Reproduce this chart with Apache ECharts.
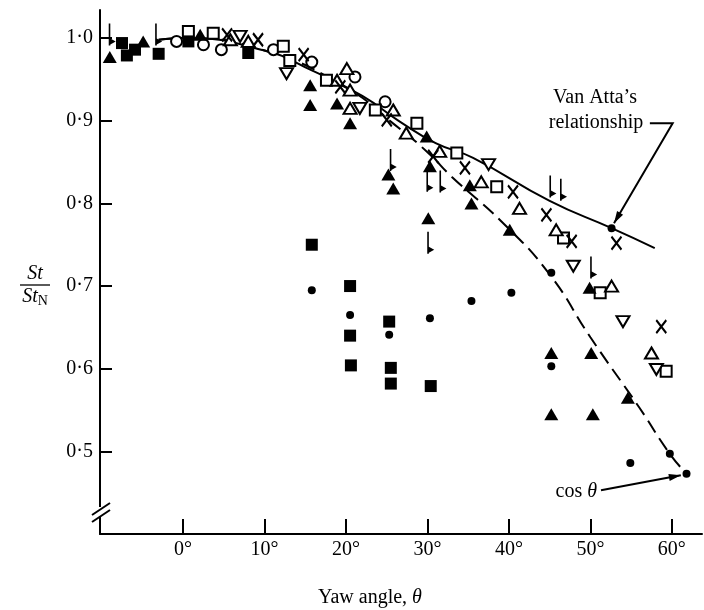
<!DOCTYPE html>
<html><head><meta charset="utf-8">
<script src="https://cdn.jsdelivr.net/npm/echarts@6/dist/echarts.min.js"></script>
<style>html,body{margin:0;padding:0;background:#fff}#c{width:704px;height:610px}</style>
</head><body><div id="c"></div>
<script>
// ---- tick labels ----
const xTicks = [0, 10, 20, 30, 40, 50, 60];
const yTicks = [0.5, 0.6, 0.7, 0.8, 0.9, 1.0];

// ---- curves ----
const cosCurve = [[-3,0.998],[0,1.0],[10,0.985],[20,0.94],[26,0.895],[30,0.862],[33,0.832],[39.3,0.776],[45,0.714],[50,0.638],[56,0.553],[59.75,0.497],[61.8,0.473]];
const vanAttaCurve = [[-3,0.998],[0,1.0],[10,0.985],[16,0.96],[22,0.93],[26.6,0.899],[31,0.873],[35.6,0.855],[45,0.803],[52.6,0.770],[57.9,0.746]];

// ---- data points by marker type [theta, St/StN] ----
const filledTriangles = [[-9.0,0.977],[-4.9,0.996],[2.1,1.004],[15.6,0.943],[15.6,0.919],[18.9,0.921],[20.5,0.897],[25.2,0.835],[25.8,0.818],[29.9,0.881],[30.3,0.845],[30.1,0.782],[35.2,0.822],[35.4,0.800],[40.1,0.768],[49.9,0.698],[45.2,0.619],[50.1,0.619],[54.6,0.565],[45.2,0.545],[50.3,0.545]];
const filledSquares = [[-7.5,0.994],[-6.9,0.979],[-5.9,0.986],[-3.0,0.981],[0.65,0.996],[8.0,0.982],[15.8,0.750],[20.5,0.700],[20.5,0.640],[20.6,0.604],[25.3,0.657],[25.5,0.601],[25.5,0.582],[30.4,0.579]];
const filledDots = [[15.8,0.695],[20.5,0.665],[25.3,0.641],[30.3,0.661],[35.4,0.682],[40.3,0.692],[45.2,0.716],[45.2,0.603],[54.9,0.486],[59.75,0.497],[61.8,0.473],[52.6,0.770]];
const openCircles = [[-0.8,0.996],[2.5,0.992],[4.7,0.986],[11.1,0.986],[15.8,0.971],[21.1,0.953],[24.8,0.923]];
const openSquares = [[0.65,1.008],[3.7,1.006],[12.3,0.990],[13.1,0.973],[17.6,0.949],[23.6,0.913],[28.7,0.897],[33.6,0.861],[38.5,0.820],[46.7,0.758],[51.2,0.692],[59.3,0.597]];
const openTriangles = [[5.8,0.998],[8.0,0.996],[18.9,0.949],[20.1,0.963],[20.5,0.937],[20.5,0.915],[25.8,0.913],[27.4,0.885],[31.5,0.863],[36.6,0.826],[41.3,0.794],[45.8,0.768],[52.6,0.700],[57.5,0.619]];
const openInvTriangles = [[7.0,1.002],[12.7,0.957],[21.7,0.915],[37.5,0.847],[47.9,0.724],[54.0,0.657],[58.1,0.599]];
const crosses = [[5.4,1.004],[9.2,0.998],[14.8,0.980],[19.3,0.941],[25.0,0.901],[30.7,0.857],[34.6,0.843],[40.5,0.814],[44.6,0.786],[47.7,0.754],[53.2,0.752],[58.7,0.651]];
const flags = [[-8.7,0.996],[-3.0,0.996],[25.8,0.844],[30.3,0.819],[31.9,0.818],[30.4,0.744],[45.4,0.812],[46.7,0.808],[50.4,0.714]];

// ---- annotation anchors (data space) ----
const vanAttaArrow = [[57.3,0.897],[60.1,0.897],[52.9,0.776]];
const cosArrow = [[51.3,0.453],[61.1,0.471]];

const FONT = 'Liberation Serif, Times New Roman, serif';
const chart = echarts.init(document.getElementById('c'), null, {renderer:'canvas'});

const open = {color:'#fff', borderColor:'#000', borderWidth:2, opacity:1};
function sc(data, symbol, size, style, extra) {
  return Object.assign({type:'scatter', data, symbol, symbolSize:size, itemStyle:Object.assign({opacity:1}, style), z:3, animation:false}, extra||{});
}

chart.setOption({
  animation:false,
  backgroundColor:'#fff',
  grid:{left:100, right:2, top:10, bottom:76},
  xAxis:{
    type:'value', min:-10.2, max:63.7,
    splitLine:{show:false},
    axisLine:{onZero:false, lineStyle:{color:'#000', width:2}},
    axisTick:{inside:true, length:15, lineStyle:{color:'#000', width:2}, customValues:xTicks},
    axisLabel:{customValues:xTicks, formatter:v=>Math.round(v)+'°', color:'#000', fontFamily:FONT, fontSize:20, margin:6}
  },
  yAxis:{
    type:'value', min:0.4, max:1.034,
    splitLine:{show:false},
    axisLine:{onZero:false, lineStyle:{color:'#000', width:2}},
    axisTick:{inside:true, length:12, lineStyle:{color:'#000', width:2}, customValues:yTicks},
    axisLabel:{customValues:yTicks, formatter:v=>v.toFixed(1).replace('.','·'), color:'#000', fontFamily:FONT, fontSize:20, margin:7}
  },
  series:[
    {type:'line', data:cosCurve, symbol:'none', smooth:true, lineStyle:{color:'#000', width:2, type:[14,7]}, z:1},
    {type:'line', data:vanAttaCurve, symbol:'none', smooth:true, lineStyle:{color:'#000', width:2}, z:1},
    sc(openCircles, 'circle', 11, open),
    sc(openSquares, 'rect', 11, open),
    sc(openTriangles, 'triangle', [13,11], open),
    sc(openInvTriangles, 'path://M0,0L12,0L6,10Z', [13,11], open),
    sc(crosses, 'path://M0,0L10,13M10,0L0,13', [10,13], {color:'rgba(0,0,0,0)', borderColor:'#000', borderWidth:2.2}),
    sc(filledTriangles, 'triangle', [14,12], {color:'#000'}),
    sc(filledSquares, 'rect', 12, {color:'#000'}),
    sc(filledDots, 'circle', 8, {color:'#000'}),
    sc(flags, 'path://M0,0L1.6,0L1.6,15L7,18L1.6,21L1.6,22L0,22Z', [7,22], {color:'#000'}, {symbolOffset:[0,-7]})
  ]
});

// ---- annotations ----
function px(d){ return chart.convertToPixel({gridIndex:0}, d); }
function arrowHead(from, to, len, wid){
  const dx=to[0]-from[0], dy=to[1]-from[1], L=Math.hypot(dx,dy), ux=dx/L, uy=dy/L;
  const bx=to[0]-ux*len, by=to[1]-uy*len;
  return {type:'polygon', shape:{points:[[to[0],to[1]],[bx-uy*wid/2,by+ux*wid/2],[bx+uy*wid/2,by-ux*wid/2]]}, style:{fill:'#000'}, z:10};
}
const va = vanAttaArrow.map(px);
const ca = cosArrow.map(px);
const txt = (x,y,text,extra)=>({type:'text', x, y, style:Object.assign({text, fill:'#000', font:'20px '+FONT, align:'center', verticalAlign:'middle'}, extra||{}), z:10});

chart.setOption({graphic:[
  txt(595,98,"Van Atta\u2019s"),
  txt(596,123,'relationship'),
  {type:'polyline', shape:{points:va}, style:{stroke:'#000', lineWidth:2, fill:null}, z:10},
  arrowHead(va[1], va[2], 12, 7),
  {type:'text', x:597, y:492, style:{text:'{r|cos }{i|\u03b8}', rich:{r:{font:'20px '+FONT, fill:'#000'}, i:{font:'italic 20px '+FONT, fill:'#000'}}, align:'right', verticalAlign:'middle'}, z:10},
  {type:'line', shape:{x1:ca[0][0], y1:ca[0][1], x2:ca[1][0], y2:ca[1][1]}, style:{stroke:'#000', lineWidth:2}, z:10},
  arrowHead(ca[0], ca[1], 12, 7),
  // axis break
  {type:'rect', shape:{x:96, y:507, width:8, height:9}, style:{fill:'#fff'}, z:20},
  {type:'line', shape:{x1:92, y1:515, x2:110, y2:503}, style:{stroke:'#000', lineWidth:2}, z:21},
  {type:'line', shape:{x1:92, y1:522, x2:110, y2:510}, style:{stroke:'#000', lineWidth:2}, z:21},
  // y-axis title (fraction)
  {type:'text', x:35, y:274, style:{text:'St', font:'italic 20px '+FONT, fill:'#000', align:'center', verticalAlign:'middle'}, z:10},
  {type:'line', shape:{x1:20, y1:285, x2:50, y2:285}, style:{stroke:'#000', lineWidth:1.3}, z:10},
  {type:'text', x:35, y:297, style:{text:'{i|St}{s|N}', rich:{i:{font:'italic 20px '+FONT, fill:'#000'}, s:{font:'14px '+FONT, fill:'#000', padding:[8,0,0,0]}}, align:'center', verticalAlign:'middle'}, z:10},
  // x-axis title
  {type:'text', x:370, y:598, style:{text:'{r|Yaw angle, }{i|\u03b8}', rich:{r:{font:'20px '+FONT, fill:'#000'}, i:{font:'italic 20px '+FONT, fill:'#000'}}, align:'center', verticalAlign:'middle'}, z:10}
]});
</script>
</body></html>
